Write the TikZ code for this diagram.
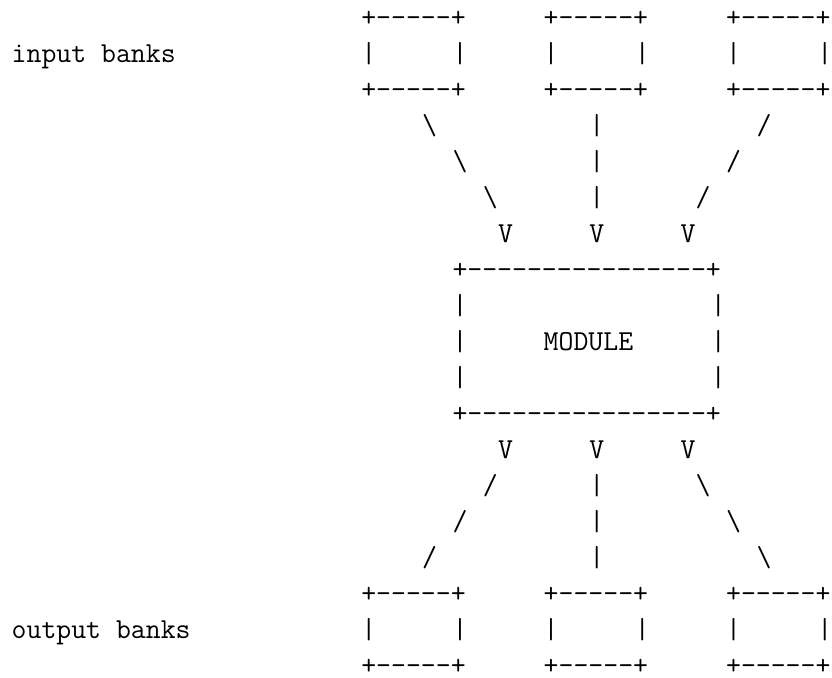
\documentclass[tikz,border=0pt]{standalone}
\usepackage{fontspec}
\setmonofont{Latin Modern Mono}
% character grid: cell width 15.2pt, line pitch 36pt
\tikzset{glyph/.style={anchor=base west, inner sep=0pt, outer sep=0pt, text depth=0pt,
  font=\fontsize{28.95}{36}\selectfont\ttfamily}}
\newcommand\glyphat[4]{\node[glyph] (#1) at ({11.7pt+#2*15.2pt},{-26.6pt-#3*36pt}) {#4};}
\newcommand\smallbox{+-----+}
\newcommand\bigbox{+----------------+}
\begin{document}
\begin{tikzpicture}
\fill[white] (0,0) rectangle (832pt,-677pt);
\useasboundingbox (0,0) rectangle (832pt,-677pt);
% input banks
\glyphat{inAtop}{23}{0}{\smallbox}
\glyphat{inBtop}{35}{0}{\smallbox}
\glyphat{inCtop}{47}{0}{\smallbox}
\glyphat{inlabel}{0}{1}{input banks}
\glyphat{inAl}{23}{1}{|}\glyphat{inAr}{29}{1}{|}
\glyphat{inBl}{35}{1}{|}\glyphat{inBr}{41}{1}{|}
\glyphat{inCl}{47}{1}{|}\glyphat{inCr}{53}{1}{|}
\glyphat{inAbot}{23}{2}{\smallbox}
\glyphat{inBbot}{35}{2}{\smallbox}
\glyphat{inCbot}{47}{2}{\smallbox}
% links into the module
\glyphat{iaA}{27}{3}{\textbackslash}\glyphat{iaB}{38}{3}{|}\glyphat{iaC}{49}{3}{/}
\glyphat{ibA}{29}{4}{\textbackslash}\glyphat{ibB}{38}{4}{|}\glyphat{ibC}{47}{4}{/}
\glyphat{icA}{31}{5}{\textbackslash}\glyphat{icB}{38}{5}{|}\glyphat{icC}{45}{5}{/}
\glyphat{ivA}{32}{6}{V}\glyphat{ivB}{38}{6}{V}\glyphat{ivC}{44}{6}{V}
% module
\glyphat{modtop}{29}{7}{\bigbox}
\glyphat{modl1}{29}{8}{|}\glyphat{modr1}{46}{8}{|}
\glyphat{modl2}{29}{9}{|}\glyphat{modname}{35}{9}{MODULE}\glyphat{modr2}{46}{9}{|}
\glyphat{modl3}{29}{10}{|}\glyphat{modr3}{46}{10}{|}
\glyphat{modbot}{29}{11}{\bigbox}
% links out of the module
\glyphat{ovA}{32}{12}{V}\glyphat{ovB}{38}{12}{V}\glyphat{ovC}{44}{12}{V}
\glyphat{oaA}{31}{13}{/}\glyphat{oaB}{38}{13}{|}\glyphat{oaC}{45}{13}{\textbackslash}
\glyphat{obA}{29}{14}{/}\glyphat{obB}{38}{14}{|}\glyphat{obC}{47}{14}{\textbackslash}
\glyphat{ocA}{27}{15}{/}\glyphat{ocB}{38}{15}{|}\glyphat{ocC}{49}{15}{\textbackslash}
% output banks
\glyphat{outAtop}{23}{16}{\smallbox}
\glyphat{outBtop}{35}{16}{\smallbox}
\glyphat{outCtop}{47}{16}{\smallbox}
\glyphat{outlabel}{0}{17}{output banks}
\glyphat{outAl}{23}{17}{|}\glyphat{outAr}{29}{17}{|}
\glyphat{outBl}{35}{17}{|}\glyphat{outBr}{41}{17}{|}
\glyphat{outCl}{47}{17}{|}\glyphat{outCr}{53}{17}{|}
\glyphat{outAbot}{23}{18}{\smallbox}
\glyphat{outBbot}{35}{18}{\smallbox}
\glyphat{outCbot}{47}{18}{\smallbox}
\end{tikzpicture}
\end{document}
